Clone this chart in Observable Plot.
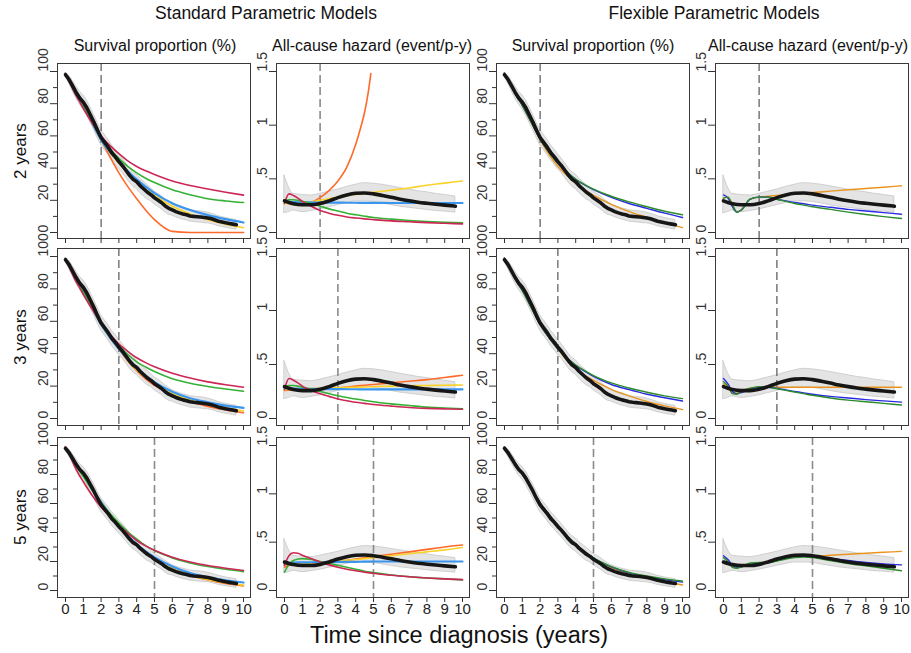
<!DOCTYPE html>
<html><head><meta charset="utf-8">
<script src="https://cdn.jsdelivr.net/npm/d3@7"></script>
<script src="https://cdn.jsdelivr.net/npm/@observablehq/plot@0.6"></script>
<style>
body{margin:0;background:#fff;font-family:"Liberation Sans",Arial,sans-serif;}
#chart{position:relative;width:911px;height:653px;overflow:hidden;background:#fff;}
.lbl{position:absolute;white-space:nowrap;color:#111;transform:translate(-50%,-50%);line-height:1;}
</style></head><body><div id="chart"></div>
<script>
// ---------- texts ----------
const groupTitles = ["Standard Parametric Models", "Flexible Parametric Models"];
const colTitles = ["Survival proportion (%)", "All-cause hazard (event/p-y)", "Survival proportion (%)", "All-cause hazard (event/p-y)"];
const rowLabels = ["2 years", "3 years", "5 years"];
const xTitle = "Time since diagnosis (years)";
const cutYears = [2, 3, 5];

// ---------- ticks ----------
const survTicks = [0, 20, 40, 60, 80, 100];
const survMinor = [10, 30, 50, 70, 90];
const hazTicks = [0, 0.5, 1, 1.5];
const hazTickLabels = ["0", ".5", "1", "1.5"];
const xTicks = [0, 1, 2, 3, 4, 5, 6, 7, 8, 9, 10];

// ---------- observed: Kaplan-Meier survival (%) ----------
const tKM  = [0,0.2,0.4,0.6,0.8,1,1.2,1.4,1.6,1.8,2,2.2,2.4,2.6,2.8,3,3.2,3.4,3.6,3.8,4,4.2,4.4,4.6,4.8,5,5.2,5.4,5.6,5.8,6,6.2,6.4,6.6,6.8,7,7.2,7.4,7.6,7.8,8,8.2,8.4,8.6,8.8,9,9.2,9.4,9.6];
const KM   = [98,95,91,87,83.5,81,77.5,73,68.5,63.5,59,56,53,49.5,47,44,41.5,38.5,35.5,33,31.5,29,27,25,23.5,21.5,20,18.5,16.5,15,14,13,12.2,11.5,11,10.3,10,9.8,9.6,9.3,9,8.5,7.8,7,6.5,6,5.6,5.2,4.8];
const KMhi = [99,97.5,94.2,90.7,87.5,85.3,82.1,77.7,73.2,68.2,63.7,60.7,57.7,54.2,51.7,48.7,46,43,40,37.5,36,33.5,31.5,29.5,27.5,25.5,24,22.5,20.5,19,17.5,16.5,15.7,15,14.5,13.8,13.5,13.3,13.1,12.8,12.3,11.7,11,10.1,9.6,9,8.6,8.2,7.8];
const KMlo = [97,92.5,87.8,83.3,79.5,76.7,72.9,68.3,63.8,58.8,54.3,51.3,48.3,44.8,42.3,39.3,37,34,31,28.5,27,24.5,22.5,20.5,19.5,17.5,16,14.5,12.5,11,10.5,9.5,8.7,8,7.5,6.8,6.5,6.3,6.1,5.8,5.7,5.3,4.6,3.9,3.4,3,2.6,2.2,1.8];

// ---------- observed: smoothed all-cause hazard ----------
const tHZ  = [0,0.25,0.5,1,1.5,2,2.5,3,3.5,4,4.5,5,5.5,6,6.5,7,7.5,8,8.5,9,9.6];
const HZ   = [0.295,0.28,0.268,0.258,0.258,0.27,0.295,0.325,0.35,0.365,0.368,0.36,0.345,0.328,0.31,0.295,0.282,0.272,0.263,0.255,0.245];
const HZhi = [0.53,0.42,0.36,0.35,0.345,0.36,0.38,0.40,0.425,0.445,0.46,0.455,0.445,0.43,0.415,0.40,0.385,0.375,0.36,0.35,0.335];
const HZlo = [0.18,0.19,0.205,0.19,0.2,0.215,0.235,0.255,0.275,0.29,0.29,0.285,0.27,0.255,0.24,0.23,0.22,0.21,0.2,0.195,0.185];

// ---------- model fits, common time grid ----------
const tFit = [0,0.25,0.5,0.75,1,1.5,2,2.5,3,3.5,4,4.5,5,6,7,8,9,10];

// Standard, 2 years - survival
const s2_red    = [98,93,87,82,77,68,60,54,49,44.5,41,38.3,36,32,29.2,27,25,23.2];
const s2_green  = [98,93,87.5,82.5,78,68.5,59.5,52,46,41,37,33.7,31,26.5,23.5,21,19.6,18.6];
const s2_blue   = [98.5,93.5,88,83,78.5,68,57.5,50,44,38,33,28.5,24.5,18.2,14,10.8,8.3,6.2];
const s2_yellow = [98.5,93.5,88,83,78.5,68,57.5,49.5,43,37,31.5,27,23,16.3,11.5,8,5.2,3];
const s2_orange = [99,94.5,89.5,84.5,79.5,68.5,57.5,47,37,28.5,21,14,8,0.7,0,0,0,0];
// Standard, 2 years - hazard
const tH2orange = [0,0.25,0.5,1,1.5,2,2.5,3,3.5,4,4.25,4.5,4.7,4.85];
const h2_orange = [0.28,0.27,0.262,0.262,0.28,0.325,0.39,0.48,0.61,0.82,0.96,1.12,1.3,1.48];
const h2_yellow = [0.27,0.27,0.27,0.272,0.275,0.285,0.3,0.315,0.33,0.343,0.355,0.365,0.375,0.395,0.415,0.44,0.46,0.48];
const h2_blue   = [0.29,0.285,0.283,0.282,0.28,0.28,0.279,0.278,0.278,0.277,0.277,0.276,0.276,0.275,0.275,0.275,0.275,0.275];
const h2_green  = [0.3,0.305,0.305,0.3,0.29,0.27,0.245,0.22,0.2,0.18,0.165,0.152,0.14,0.125,0.112,0.102,0.095,0.09];
const h2_red    = [0.27,0.36,0.345,0.32,0.29,0.245,0.205,0.18,0.16,0.145,0.135,0.127,0.12,0.108,0.1,0.092,0.086,0.08];
// Flexible, 2 years
const fs2_green  = [99,94,88.5,83.5,79,68.5,58,50,43,37.5,33,29.8,27,22.5,19,16,13.2,11];
const fs2_blue   = [99,94,88.5,83.5,79,68.5,58,50,43,37.5,33,29.5,26.6,21.8,18,15,12,9.3];
const fs2_orange = [99,94,88.5,83.5,79,68.5,57.5,48.5,41,35.5,30.5,26.5,23,17.5,13,9.5,6,3];
const fh2_blue   = [0.35,0.32,0.24,0.19,0.21,0.31,0.33,0.33,0.31,0.295,0.28,0.268,0.255,0.235,0.215,0.2,0.185,0.17];
const fh2_green  = [0.32,0.33,0.26,0.19,0.21,0.31,0.33,0.33,0.31,0.29,0.27,0.255,0.24,0.215,0.19,0.168,0.148,0.13];
const fh2_orange = [0.32,0.33,0.26,0.19,0.21,0.31,0.33,0.338,0.345,0.352,0.36,0.366,0.372,0.385,0.398,0.41,0.422,0.435];

// Standard, 3 years
const s3_red    = [98,92.5,86.5,81.5,76.5,67.5,59,52,46,41.5,37.5,34.5,32,28,25,22.6,20.8,19.3];
const s3_green  = [98,93,87.5,82.5,78,68.5,59,51.5,45,39.5,35,31.8,29,24.6,21.8,19.8,18.2,16.8];
const s3_blue   = [98.5,93.5,88,83,78.5,68,58,50,43,36.5,31,26.5,22.5,16.5,12.5,10,8,6.6];
const s3_yellow = [98.5,93.5,88,83,78.5,68,58,50,43,36,30,25.5,21.5,15.5,11.5,8.7,6.5,4.8];
const s3_orange = [99,94,88.5,83.5,79,68.5,58,50,43,35.5,29.5,24.5,20.5,14.5,10.5,7.5,5.3,3.6];
const h3_orange = [0.26,0.262,0.263,0.265,0.266,0.268,0.272,0.278,0.285,0.292,0.3,0.308,0.315,0.33,0.345,0.36,0.38,0.40];
const h3_yellow = [0.27,0.27,0.272,0.274,0.275,0.278,0.28,0.283,0.285,0.288,0.29,0.292,0.295,0.3,0.303,0.306,0.308,0.31];
const h3_blue   = [0.28,0.278,0.277,0.276,0.275,0.274,0.273,0.272,0.272,0.271,0.271,0.27,0.27,0.27,0.27,0.27,0.27,0.27];
const h3_green  = [0.3,0.305,0.305,0.3,0.29,0.27,0.25,0.23,0.21,0.195,0.18,0.167,0.155,0.135,0.12,0.105,0.097,0.09];
const h3_red    = [0.27,0.37,0.355,0.33,0.3,0.26,0.23,0.205,0.18,0.165,0.15,0.14,0.13,0.115,0.102,0.094,0.089,0.085];
// Flexible, 3 years
const fs3_green  = [99,94,88.5,83.5,79,68.5,58,50,43,37.5,33,29.5,26.5,22,18.8,16.2,14,12.3];
const fs3_blue   = [99,94,88.5,83.5,79,68.5,58,50,43,37.5,32.8,29.2,26,21,17.8,15,12.8,10.8];
const fs3_orange = [99,94,88.5,83.5,79,68.5,58,50,43,36,30.5,26.8,23.5,18,14,10.5,7.8,5.5];
const fh3_blue   = [0.37,0.32,0.25,0.23,0.24,0.27,0.29,0.29,0.28,0.265,0.25,0.237,0.225,0.205,0.19,0.175,0.163,0.152];
const fh3_green  = [0.34,0.3,0.23,0.225,0.25,0.28,0.295,0.29,0.275,0.26,0.245,0.23,0.215,0.19,0.17,0.155,0.14,0.125];
const fh3_orange = [0.32,0.3,0.245,0.235,0.255,0.28,0.29,0.29,0.29,0.29,0.29,0.29,0.29,0.29,0.29,0.29,0.29,0.29];

// Standard, 5 years
const s5_red    = [99,93,86,80,75,65.5,57.5,51,45,39.5,34.5,30.8,27.8,23,19.6,17.2,15.4,13.8];
const s5_green  = [99,93.5,88,83,78.5,69,60.5,53,46.5,40.5,35.5,31,27.5,22.5,19,16.5,14.6,13];
const s5_blue   = [98,93.5,88.5,84,80,70,61,52.5,45,38,32,27,23,16.5,12,9,7,5.5];
const s5_yellow = [98,93.5,88.5,84,80,70,61,52.5,45,37.5,31.5,26.5,22,15.2,10.5,7.5,5.3,3.7];
const s5_orange = [99,94,89,84.5,80.5,70.5,61,52.5,45,37.5,31.5,26.3,21.8,15,10.3,7.2,4.9,3.2];
const h5_orange = [0.24,0.265,0.27,0.27,0.27,0.272,0.28,0.29,0.3,0.312,0.325,0.338,0.35,0.375,0.4,0.425,0.45,0.47];
const h5_yellow = [0.27,0.272,0.275,0.277,0.28,0.285,0.29,0.297,0.305,0.312,0.32,0.33,0.34,0.36,0.38,0.4,0.42,0.445];
const h5_blue   = [0.28,0.285,0.288,0.29,0.29,0.292,0.293,0.294,0.295,0.296,0.297,0.298,0.3,0.3,0.3,0.3,0.3,0.3];
const h5_green  = [0.19,0.27,0.31,0.325,0.33,0.32,0.3,0.28,0.26,0.24,0.22,0.2,0.185,0.16,0.143,0.13,0.12,0.11];
const h5_red    = [0.26,0.36,0.39,0.385,0.365,0.33,0.295,0.265,0.24,0.22,0.205,0.19,0.178,0.157,0.142,0.13,0.12,0.113];
// Flexible, 5 years
const fs5_green  = [99,94,89,84.5,80.5,70.5,60.5,52.5,45,38,32,26.8,22.5,16.5,12.5,10,8,6.5];
const fs5_blue   = [99,94,89,84.5,80.5,70.5,60.5,52.5,45,38,32,26.8,22.3,16.3,12.2,9.6,7.5,5.8];
const fs5_orange = [99,94,89,84.5,80.5,70.5,60.5,52.5,45,38,32,26.8,22,15.8,11.5,8.5,6,3.8];
const fh5_blue   = [0.36,0.32,0.26,0.24,0.245,0.27,0.28,0.29,0.31,0.335,0.35,0.355,0.35,0.33,0.31,0.29,0.275,0.265];
const fh5_green  = [0.34,0.3,0.24,0.23,0.245,0.285,0.29,0.29,0.305,0.325,0.34,0.345,0.34,0.31,0.28,0.255,0.23,0.205];
const fh5_orange = [0.3,0.28,0.25,0.24,0.245,0.265,0.28,0.29,0.31,0.33,0.345,0.355,0.355,0.365,0.375,0.385,0.395,0.405];

// ---------- colours ----------
const C = {red:"#CC2654", green:"#35B035", blue:"#3A95EE", yellow:"#F9D22A", orange:"#FF6A2A",
           fOrange:"#E8941F", fBlue:"#2A2AE2", fGreen:"#2B8B2B"};

// ---------- layout ----------
const colFrameLeft = [57, 276, 496, 715];
const colTitleX = [155, 372, 593, 808];
const frameW = 193;
const rowFrameTop = [63, 248, 437];
const rowFrameH = [175, 177, 160];
const rowInsetTop = [8, 8, 8];
const rowInsetBottom = [6, 7, 7];

const rows = (ts, vs) => ts.map((t, i) => ({t, v: vs[i]})).filter(d => d.v != null);
const kmRows = tKM.map((t, i) => ({t, v: KM[i], lo: KMlo[i], hi: KMhi[i]}));
const hzRows = tHZ.map((t, i) => ({t, v: HZ[i], lo: HZlo[i], hi: HZhi[i]}));
const hazTickRows = hazTicks.map((v, i) => ({v, s: hazTickLabels[i]}));

const panels = [
  {r:0,c:0,type:"s",lines:[[tFit,s2_orange,C.orange],[tFit,s2_yellow,C.yellow],[tFit,s2_blue,C.blue],[tFit,s2_green,C.green],[tFit,s2_red,C.red]]},
  {r:0,c:1,type:"h",lines:[[tH2orange,h2_orange,C.orange],[tFit,h2_yellow,C.yellow],[tFit,h2_blue,C.blue],[tFit,h2_green,C.green],[tFit,h2_red,C.red]]},
  {r:0,c:2,type:"s",lines:[[tFit,fs2_orange,C.fOrange],[tFit,fs2_blue,C.fBlue],[tFit,fs2_green,C.fGreen]]},
  {r:0,c:3,type:"h",lines:[[tFit,fh2_orange,C.fOrange],[tFit,fh2_blue,C.fBlue],[tFit,fh2_green,C.fGreen]]},
  {r:1,c:0,type:"s",lines:[[tFit,s3_orange,C.orange],[tFit,s3_yellow,C.yellow],[tFit,s3_blue,C.blue],[tFit,s3_green,C.green],[tFit,s3_red,C.red]]},
  {r:1,c:1,type:"h",lines:[[tFit,h3_orange,C.orange],[tFit,h3_yellow,C.yellow],[tFit,h3_blue,C.blue],[tFit,h3_green,C.green],[tFit,h3_red,C.red]]},
  {r:1,c:2,type:"s",lines:[[tFit,fs3_orange,C.fOrange],[tFit,fs3_blue,C.fBlue],[tFit,fs3_green,C.fGreen]]},
  {r:1,c:3,type:"h",lines:[[tFit,fh3_orange,C.fOrange],[tFit,fh3_blue,C.fBlue],[tFit,fh3_green,C.fGreen]]},
  {r:2,c:0,type:"s",lines:[[tFit,s5_orange,C.orange],[tFit,s5_yellow,C.yellow],[tFit,s5_blue,C.blue],[tFit,s5_green,C.green],[tFit,s5_red,C.red]]},
  {r:2,c:1,type:"h",lines:[[tFit,h5_orange,C.orange],[tFit,h5_yellow,C.yellow],[tFit,h5_blue,C.blue],[tFit,h5_green,C.green],[tFit,h5_red,C.red]]},
  {r:2,c:2,type:"s",lines:[[tFit,fs5_orange,C.fOrange],[tFit,fs5_blue,C.fBlue],[tFit,fs5_green,C.fGreen]]},
  {r:2,c:3,type:"h",lines:[[tFit,fh5_orange,C.fOrange],[tFit,fh5_blue,C.fBlue],[tFit,fh5_green,C.fGreen]]}
];

const chart = document.getElementById("chart");
const FONT = "'Liberation Sans', Arial, sans-serif";

function makePanel(p) {
  const isS = p.type === "s";
  const ML = 32, MR = 4, MT = 3, MB = p.r === 2 ? 28 : 12;
  const darkRule = (p.r < 2 && (p.c === 0 || p.c === 2));
  const midRule = (p.r < 2 && p.c === 3);
  const ruleColor = darkRule ? "#333" : midRule ? "#555" : "#8a8a8a";
  const ruleW = darkRule ? 1 : midRule ? 1.2 : 1.6;
  const flex = p.c >= 2;
  const marks = [];
  marks.push(Plot.areaY(isS ? kmRows : hzRows, {x:"t", y1:"lo", y2:"hi", fill:"#e4e4e4", stroke:"#c6c6c6", strokeWidth:0.8, curve: isS ? "linear" : "monotone-x"}));
  marks.push(Plot.ruleX([cutYears[p.r]], {stroke: ruleColor, strokeWidth: ruleW, strokeDasharray: "8,4"}));
  for (const [ts, vs, color] of p.lines) {
    const w = flex ? 1.4 : (color === C.blue ? 2.2 : 1.6);
    marks.push(Plot.line(rows(ts, vs), {x:"t", y:"v", stroke: color, strokeWidth: w, curve:"monotone-x"}));
  }
  marks.push(Plot.line(isS ? kmRows : hzRows, {x:"t", y:"v", stroke:"#161616", strokeWidth:3.6, strokeLinejoin:"round", curve: isS ? "linear" : "monotone-x"}));
  marks.push(Plot.frame({stroke:"#3a3a3a", strokeWidth:1}));
  marks.push(Plot.axisY(isS ? survTicks : hazTicks, {tickSize:7, fill:"none", stroke:"#333", label:null}));
  if (isS) marks.push(Plot.axisY(survMinor, {tickSize:4, fill:"none", stroke:"#333", label:null}));
  if (isS) marks.push(Plot.text(survTicks, {y: d => d, text: d => String(d), frameAnchor:"left", dx:-14, rotate:-90, fontSize:14, fill:"#333"}));
  else marks.push(Plot.text(hazTickRows, {y:"v", text:"s", frameAnchor:"left", dx:-14, rotate:-90, fontSize:14, fill:"#333"}));
  marks.push(Plot.axisX(xTicks, {tickSize:5, fill:"none", stroke:"#333", label:null}));
  if (p.r === 2) marks.push(Plot.text(xTicks, {x: d => d, text: d => String(d), frameAnchor:"bottom", dy:16, fontSize:15, fill:"#222"}));

  const svg = Plot.plot({
    width: ML + frameW + MR,
    height: MT + rowFrameH[p.r] + MB,
    marginLeft: ML, marginRight: MR, marginTop: MT, marginBottom: MB,
    x: {domain:[0,10], insetLeft:8, insetRight:7},
    y: {domain: isS ? [0,100] : [0,1.5], insetTop: rowInsetTop[p.r], insetBottom: rowInsetBottom[p.r]},
    style: {background:"transparent", overflow:"visible", fontFamily: FONT},
    marks
  });
  svg.style.position = "absolute";
  svg.style.left = (colFrameLeft[p.c] - ML) + "px";
  svg.style.top = (rowFrameTop[p.r] - MT) + "px";
  svg.style.maxWidth = "none";
  chart.appendChild(svg);
}
panels.forEach(makePanel);

function label(text, x, y, size, rotate) {
  const d = document.createElement("div");
  d.className = "lbl";
  d.textContent = text;
  d.style.left = x + "px";
  d.style.top = y + "px";
  d.style.fontSize = size + "px";
  if (rotate) d.style.transform = "translate(-50%,-50%) rotate(-90deg)";
  chart.appendChild(d);
}
label(groupTitles[0], 266, 14, 17.5);
label(groupTitles[1], 714, 14, 17.5);
colTitleX.forEach((x, i) => label(colTitles[i], x, 46, 16));
rowFrameTop.forEach((t, i) => label(rowLabels[i], 20, t + rowFrameH[i] / 2, 17, true));
label(xTitle, 459, 636, 23.5);
</script></body></html>
